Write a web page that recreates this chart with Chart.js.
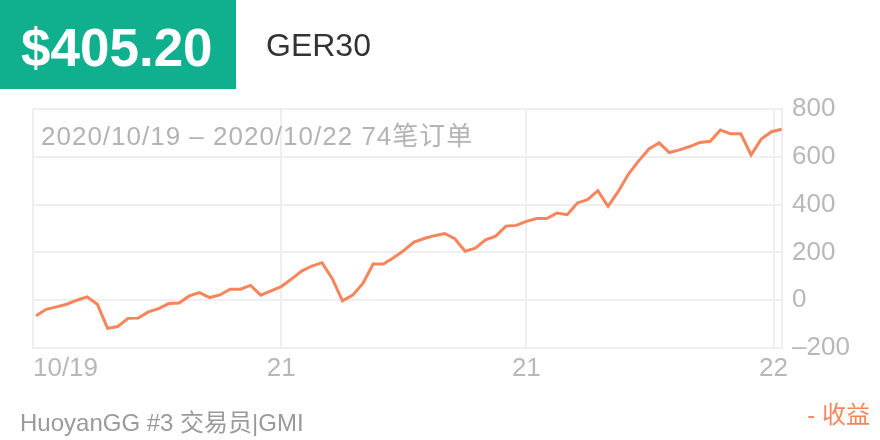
<!DOCTYPE html>
<html>
<head>
<meta charset="utf-8">
<script src="https://cdn.jsdelivr.net/npm/chart.js@4/dist/chart.umd.min.js"></script>
<style>
  html, body { margin: 0; padding: 0; background: #fff; }
  body { width: 880px; height: 440px; position: relative; overflow: hidden;
         font-family: "Liberation Sans", "Noto Sans CJK SC", sans-serif; }
  #wrap { position: absolute; left: 0; top: 0; width: 880px; height: 440px; }
  .abs { position: absolute; white-space: nowrap; }
  #badge { left: 0; top: 0; width: 236px; height: 89px; background: #10b08f; }
  #amount { left: 21px; top: 21px; font-size: 53px; line-height: 53px; font-weight: bold; color: #fff; }
  #symbol { left: 266px; top: 29px; font-size: 32px; line-height: 32px; color: #333; }
  #range { left: 41px; top: 123px; font-size: 26px; line-height: 26px; letter-spacing: 1px; color: #b3b3b3; }
  #trader { left: 20px; top: 410px; font-size: 24px; line-height: 26px; color: #9a9a9a; }
  #legend { right: 10px; top: 402px; font-size: 24px; line-height: 26px; color: #f7845a; }
</style>
</head>
<body>
<div id="wrap"><canvas id="profitChart"></canvas></div>
<div id="badge" class="abs"></div>
<div id="amount" class="abs">$405.20</div>
<div id="symbol" class="abs">GER30</div>
<div id="range" class="abs">2020/10/19 – 2020/10/22 74笔订单</div>
<div id="trader" class="abs">HuoyanGG #3 交易员|GMI</div>
<div id="legend" class="abs">- 收益</div>
<script>
// cumulative profit after each order (74 orders)
const profit = [
  -65, -38, -28, -17, 0, 14, -17, -118, -110, -76,
  -75, -49, -35, -14, -12, 18, 32, 11, 22, 46,
  46, 62, 21, 39, 57, 88, 122, 143, 157, 90,
  -3, 21, 70, 151, 151, 178, 208, 243, 258, 270,
  279, 257, 205, 218, 253, 268, 310, 313, 330, 342,
  342, 365, 358, 407, 421, 458, 393, 455, 528, 583,
  633, 658, 618, 629, 643, 660, 665, 712, 696, 696,
  608, 674, 705, 715
];
const orderIdx = profit.map((_, i) => i);

// date ticks along the order axis
const dateTickPos = [-0.3, 24, 48, 72.2];
const dateTickLabels = ['10/19', '21', '21', '22'];

const yMin = -200;
const yMax = 800;
const yStep = 200;

const lineColor = '#f7845a';
const gridColor = '#efefef';
const tickColor = '#b8b8b8';

const ctx = document.getElementById('profitChart').getContext('2d');

new Chart(ctx, {
  type: 'line',
  data: {
    datasets: [{
      label: '收益',
      data: orderIdx.map(i => ({ x: i, y: profit[i] })),
      borderColor: lineColor,
      borderWidth: 3,
      pointRadius: 0,
      tension: 0,
      fill: false
    }]
  },
  options: {
    responsive: true,
    maintainAspectRatio: false,
    animation: false,
    layout: {
      padding: { left: 33, top: 109, right: 0, bottom: 0 }
    },
    plugins: {
      legend: { display: false },
      tooltip: { enabled: false }
    },
    scales: {
      x: {
        type: 'linear',
        min: -0.3,
        max: 73.03,
        afterBuildTicks: scale => {
          scale.ticks = dateTickPos.map(v => ({ value: v }));
        },
        afterFit: scale => {
          scale.height = 92;
          scale.paddingLeft = 0;
          scale.paddingRight = 0;
        },
        grid: { color: gridColor, lineWidth: 2, drawTicks: false },
        border: { display: true, color: gridColor, width: 2 },
        ticks: {
          autoSkip: false,
          maxRotation: 0,
          padding: 5,
          color: tickColor,
          font: { family: '"Liberation Sans", sans-serif', size: 26 },
          callback: (value, index) => {
            const txt = dateTickLabels[index];
            // first label sits to the right of the edge
            return index === 0 ? '         ' + txt : txt;
          }
        }
      },
      y: {
        position: 'right',
        min: yMin,
        max: yMax,
        afterFit: scale => {
          scale.width = 98;
          scale.paddingTop = 0;
          scale.paddingBottom = 0;
        },
        grid: { color: gridColor, lineWidth: 2, drawTicks: false },
        border: { display: true, color: gridColor, width: 2 },
        ticks: {
          stepSize: yStep,
          padding: 10,
          color: tickColor,
          font: { family: '"Liberation Sans", sans-serif', size: 26 },
          callback: value => String(value).replace('-', '–')
        }
      }
    }
  }
});
</script>
</body>
</html>
